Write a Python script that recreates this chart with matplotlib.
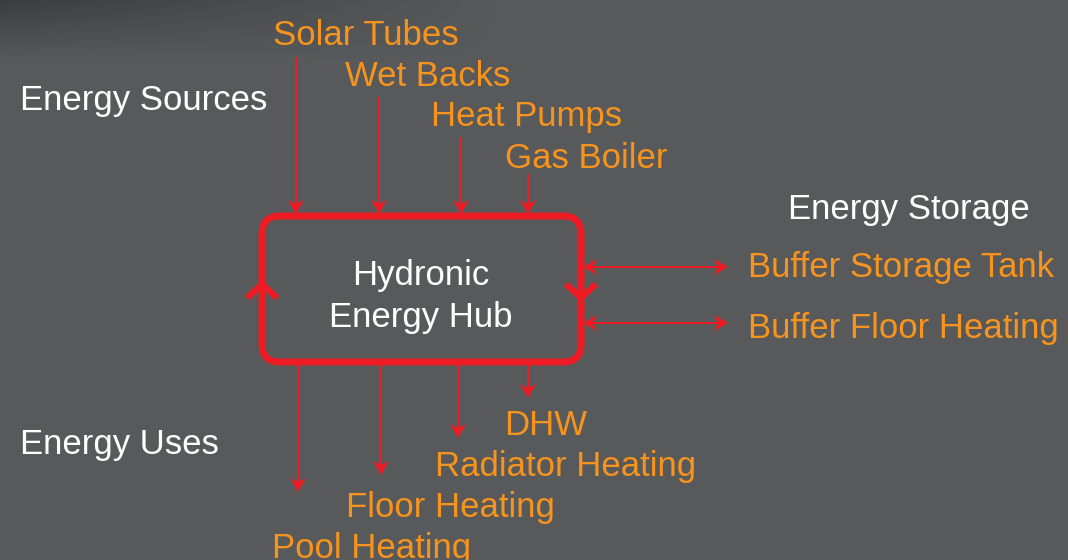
import numpy as np
import matplotlib.pyplot as plt
from matplotlib.patches import FancyBboxPatch, Polygon

W, H = 1068, 560
BG = '#58595b'
RED = '#ed1c24'
ORANGE = '#f7941d'
plt.rcParams['font.family'] = ['Liberation Sans', 'DejaVu Sans']

# labels
sources = ['Solar Tubes', 'Wet Backs', 'Heat Pumps', 'Gas Boiler']
uses = ['Pool Heating', 'Floor Heating', 'Radiator Heating', 'DHW']
storage = ['Buffer Storage Tank', 'Buffer Floor Heating']
groups = ['Energy Sources', 'Energy Storage', 'Energy Uses']

# layout (pixels)
src_x = [296, 379, 461, 528]
src_start = [58, 98, 138, 175]
src_text = [(366, 45), (428, 86), (527, 126), (586, 168)]
use_x = [298, 381, 458, 528]
use_end = [492, 475, 438, 398]
use_text = [(372, 558), (450, 517), (566, 476), (546, 435)]
sto_y = [267, 323]
box = (262, 216, 581, 362)

fig = plt.figure(figsize=(W / 100, H / 100), dpi=100)
ax = fig.add_axes([0, 0, 1, 1])
ax.set_xlim(0, W)
ax.set_ylim(H, 0)
ax.axis('off')
fig.patch.set_facecolor(BG)

# dark shading in the top-left corner
yy, xx = np.mgrid[0:H, 0:W]
alpha = 0.32 * np.clip(1 - yy / 60, 0, 1) * np.clip(1 - xx / 500, 0, 1)
shade = np.zeros((H, W, 4))
shade[..., 3] = alpha
ax.imshow(shade, extent=(0, W, H, 0), zorder=0)


def head(tip, d, length=14, half=8, notch=4):
    tip = np.array(tip, float)
    d = np.array(d, float) / np.hypot(*d)
    n = np.array([-d[1], d[0]])
    back = tip - d * length
    pts = [tip, back + n * half, tip - d * (length - notch), back - n * half]
    ax.add_patch(Polygon(pts, closed=True, color=RED, zorder=4, lw=0))


def arrow(p0, p1, lw=1.4):
    d = np.array(p1, float) - np.array(p0, float)
    u = d / np.hypot(*d)
    end = np.array(p1) - u * 9
    ax.plot([p0[0], end[0]], [p0[1], end[1]], color=RED, lw=lw, zorder=3)
    head(p1, d)


# hub box
x0, y0, x1, y1 = box
ax.add_patch(FancyBboxPatch((x0, y0), x1 - x0, y1 - y0,
                            boxstyle='round,pad=0,rounding_size=18',
                            fc='none', ec=RED, lw=5, zorder=5))
# circulation chevrons on the box
ax.plot([247, 262, 277], [298, 284, 298], color=RED, lw=4.5,
        solid_capstyle='butt', zorder=6)
ax.plot([566, 581, 596], [284, 298, 284], color=RED, lw=4.5,
        solid_capstyle='butt', zorder=6)

# sources in
for x, ys in zip(src_x, src_start):
    arrow((x, ys), (x, y0 - 2))
# uses out
for x, ye in zip(use_x, use_end):
    arrow((x, y1 + 3), (x, ye))
# storage both ways
for y in sto_y:
    ax.plot([592, 718], [y, y], color=RED, lw=1.4, zorder=3)
    head((x1 + 2, y), (-1, 0))
    head((728, y), (1, 0))

fs = 25
for name, (tx, ty) in zip(sources, src_text):
    ax.text(tx, ty, name, color=ORANGE, fontsize=fs, ha='center', va='baseline')
for name, (tx, ty) in zip(uses, use_text):
    ax.text(tx, ty, name, color=ORANGE, fontsize=fs, ha='center', va='baseline')
for name, ty in zip(storage, [277, 338]):
    ax.text(748, ty, name, color=ORANGE, fontsize=fs, ha='left', va='baseline')

ax.text(20, 110, groups[0], color='white', fontsize=fs, ha='left', va='baseline')
ax.text(909, 219, groups[1], color='white', fontsize=fs, ha='center', va='baseline')
ax.text(20, 454, groups[2], color='white', fontsize=fs, ha='left', va='baseline')
ax.text(421, 285, 'Hydronic', color='white', fontsize=fs, ha='center', va='baseline')
ax.text(421, 327, 'Energy Hub', color='white', fontsize=fs, ha='center', va='baseline')

fig.savefig('out.png', dpi=100, facecolor=BG)
